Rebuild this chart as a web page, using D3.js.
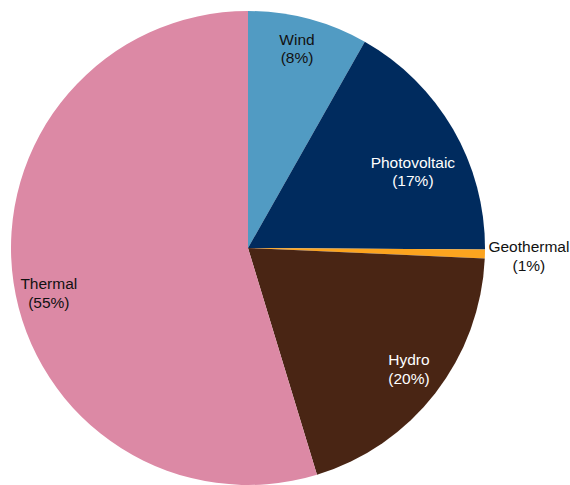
<!DOCTYPE html>
<html>
<head>
<meta charset="utf-8">
<script src="https://cdn.jsdelivr.net/npm/d3@7"></script>
<style>
  body { margin: 0; background: #fff; }
  svg { display: block; }
</style>
</head>
<body>
<div id="chart"></div>
<script>
// slice data, clockwise from 12 o'clock
let sources = ["Wind", "Photovoltaic", "Geothermal", "Hydro", "Thermal"]
let shares = [8.2, 16.9, 0.6, 19.6, 54.7]
let colors = ["#519bc3", "#002b5e", "#fca41f", "#492514", "#dc89a5"]
let textColors = ["#111", "#fff", "#111", "#fff", "#111"]

// label placement: radius and angle nudge (degrees)
let labelRadius = [206, 182, 281, 201, 204]
let labelNudge = [-1, 5, 0, -1, -4]

let width = 570, height = 485
let cx = 248, cy = 248, radius = 237

let svg = d3.select("#chart")
    .append("svg")
    .attr("width", width)
    .attr("height", height)

let g = svg.append("g")
    .attr("transform", "translate(" + cx + "," + cy + ")")

let data = sources.map((s, i) => ({ name: s, value: shares[i], i: i }))

let pie = d3.pie()
    .value(d => d.value)
    .sort(null)

let arcs = pie(data)

let arc = d3.arc()
    .innerRadius(0)
    .outerRadius(radius)

g.selectAll("path")
    .data(arcs)
    .enter()
    .append("path")
    .attr("d", arc)
    .attr("fill", d => colors[d.data.i])

let total = d3.sum(shares)

let labels = g.selectAll("text.lbl")
    .data(arcs)
    .enter()
    .append("text")
    .attr("class", "lbl")
    .attr("font-family", "Liberation Sans, Arial, sans-serif")
    .attr("font-size", 15.5)
    .attr("text-anchor", "middle")
    .attr("fill", d => textColors[d.data.i])
    .attr("transform", d => {
        let a = (d.startAngle + d.endAngle) / 2 + labelNudge[d.data.i] * Math.PI / 180
        let r = labelRadius[d.data.i]
        return "translate(" + (r * Math.sin(a)) + "," + (-r * Math.cos(a)) + ")"
    })

labels.append("tspan")
    .attr("x", 0)
    .attr("dy", "-0.2em")
    .text(d => d.data.name)

labels.append("tspan")
    .attr("x", 0)
    .attr("dy", "1.2em")
    .text(d => "(" + Math.round(d.data.value / total * 100) + "%)")
</script>
</body>
</html>
